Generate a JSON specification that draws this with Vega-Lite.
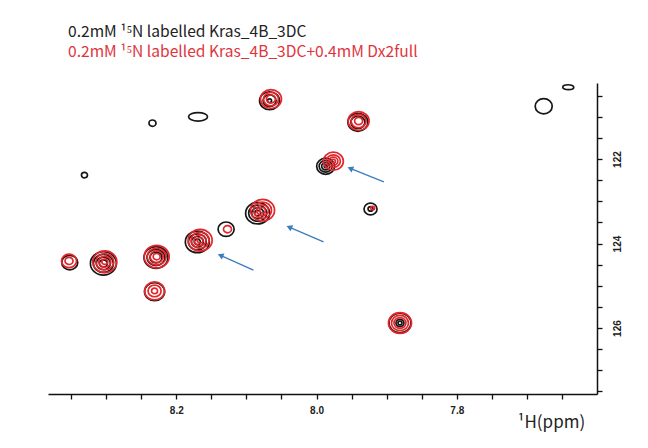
{
  "$schema": "https://vega.github.io/schema/vega-lite/v6.json",
  "width": 549,
  "height": 311,
  "autosize": "none",
  "padding": {"left": 48, "top": 83, "right": 51, "bottom": 54},
  "background": "white",
  "config": {"view": {"stroke": null}, "font": "Liberation Sans"},
  "title": {
    "text": "0.2mM ¹⁵N labelled Kras_4B_3DC",
    "subtitle": "0.2mM ¹⁵N labelled Kras_4B_3DC+0.4mM Dx2full",
    "anchor": "start",
    "frame": "group",
    "dx": 20,
    "offset": 21,
    "font": "Noto Sans CJK KR",
    "fontSize": 15.6,
    "fontWeight": "normal",
    "color": "#222222",
    "subtitleFont": "Noto Sans CJK KR",
    "subtitleFontSize": 15.6,
    "subtitleColor": "#e0353d",
    "subtitlePadding": 4
  },
  "datasets": {
    "rings": [
      {"sample": "Kras_4B_3DC", "H": 8.067, "N": 120.62, "d": 0.0286},
      {"sample": "Kras_4B_3DC", "H": 8.067, "N": 120.62, "d": 0.0186},
      {"sample": "Kras_4B_3DC", "H": 8.067, "N": 120.62, "d": 0.0057},
      {"sample": "Kras_4B_3DC", "H": 8.234, "N": 121.15, "d": 0.01},
      {"sample": "Kras_4B_3DC", "H": 8.331, "N": 122.38, "d": 0.0086},
      {"sample": "Kras_4B_3DC", "H": 7.987, "N": 122.17, "d": 0.0257},
      {"sample": "Kras_4B_3DC", "H": 7.987, "N": 122.17, "d": 0.0186},
      {"sample": "Kras_4B_3DC", "H": 7.987, "N": 122.17, "d": 0.0114},
      {"sample": "Kras_4B_3DC", "H": 7.987, "N": 122.17, "d": 0.0043},
      {"sample": "Kras_4B_3DC", "H": 7.941, "N": 121.13, "d": 0.0286},
      {"sample": "Kras_4B_3DC", "H": 7.941, "N": 121.13, "d": 0.02},
      {"sample": "Kras_4B_3DC", "H": 7.923, "N": 123.18, "d": 0.0186},
      {"sample": "Kras_4B_3DC", "H": 7.923, "N": 123.18, "d": 0.0071},
      {"sample": "Kras_4B_3DC", "H": 7.881, "N": 125.88, "d": 0.0314},
      {"sample": "Kras_4B_3DC", "H": 7.881, "N": 125.88, "d": 0.0114},
      {"sample": "Kras_4B_3DC", "H": 7.881, "N": 125.88, "d": 0.0057},
      {"sample": "Kras_4B_3DC", "H": 7.676, "N": 120.75, "d": 0.0243},
      {"sample": "Kras_4B_3DC", "H": 8.084, "N": 123.28, "d": 0.0343},
      {"sample": "Kras_4B_3DC", "H": 8.084, "N": 123.28, "d": 0.0257},
      {"sample": "Kras_4B_3DC", "H": 8.084, "N": 123.28, "d": 0.0171},
      {"sample": "Kras_4B_3DC", "H": 8.084, "N": 123.28, "d": 0.0086},
      {"sample": "Kras_4B_3DC", "H": 8.129, "N": 123.66, "d": 0.0229},
      {"sample": "Kras_4B_3DC", "H": 8.17, "N": 123.96, "d": 0.0343},
      {"sample": "Kras_4B_3DC", "H": 8.17, "N": 123.96, "d": 0.0257},
      {"sample": "Kras_4B_3DC", "H": 8.17, "N": 123.96, "d": 0.0171},
      {"sample": "Kras_4B_3DC", "H": 8.17, "N": 123.96, "d": 0.0086},
      {"sample": "Kras_4B_3DC", "H": 8.229, "N": 124.33, "d": 0.0343},
      {"sample": "Kras_4B_3DC", "H": 8.229, "N": 124.33, "d": 0.0257},
      {"sample": "Kras_4B_3DC", "H": 8.229, "N": 124.33, "d": 0.0171},
      {"sample": "Kras_4B_3DC", "H": 8.304, "N": 124.47, "d": 0.0371},
      {"sample": "Kras_4B_3DC", "H": 8.304, "N": 124.47, "d": 0.0286},
      {"sample": "Kras_4B_3DC", "H": 8.304, "N": 124.47, "d": 0.02},
      {"sample": "Kras_4B_3DC", "H": 8.304, "N": 124.47, "d": 0.0114},
      {"sample": "Kras_4B_3DC", "H": 8.352, "N": 124.45, "d": 0.0229},
      {"sample": "Kras_4B_3DC", "H": 8.231, "N": 125.14, "d": 0.0286},
      {"sample": "Kras_4B_3DC+Dx2full", "H": 8.065, "N": 120.58, "d": 0.03},
      {"sample": "Kras_4B_3DC+Dx2full", "H": 8.065, "N": 120.58, "d": 0.0214},
      {"sample": "Kras_4B_3DC+Dx2full", "H": 8.065, "N": 120.58, "d": 0.0129},
      {"sample": "Kras_4B_3DC+Dx2full", "H": 7.976, "N": 122.05, "d": 0.0286},
      {"sample": "Kras_4B_3DC+Dx2full", "H": 7.976, "N": 122.05, "d": 0.02},
      {"sample": "Kras_4B_3DC+Dx2full", "H": 7.976, "N": 122.05, "d": 0.0129},
      {"sample": "Kras_4B_3DC+Dx2full", "H": 7.976, "N": 122.05, "d": 0.0057},
      {"sample": "Kras_4B_3DC+Dx2full", "H": 7.94, "N": 121.1, "d": 0.03},
      {"sample": "Kras_4B_3DC+Dx2full", "H": 7.94, "N": 121.1, "d": 0.0214},
      {"sample": "Kras_4B_3DC+Dx2full", "H": 7.94, "N": 121.1, "d": 0.0114},
      {"sample": "Kras_4B_3DC+Dx2full", "H": 7.92, "N": 123.16, "d": 0.0057},
      {"sample": "Kras_4B_3DC+Dx2full", "H": 7.881, "N": 125.88, "d": 0.0329},
      {"sample": "Kras_4B_3DC+Dx2full", "H": 7.881, "N": 125.88, "d": 0.0243},
      {"sample": "Kras_4B_3DC+Dx2full", "H": 7.881, "N": 125.88, "d": 0.0171},
      {"sample": "Kras_4B_3DC+Dx2full", "H": 8.077, "N": 123.21, "d": 0.0343},
      {"sample": "Kras_4B_3DC+Dx2full", "H": 8.077, "N": 123.21, "d": 0.0257},
      {"sample": "Kras_4B_3DC+Dx2full", "H": 8.077, "N": 123.21, "d": 0.0171},
      {"sample": "Kras_4B_3DC+Dx2full", "H": 8.077, "N": 123.21, "d": 0.0086},
      {"sample": "Kras_4B_3DC+Dx2full", "H": 8.127, "N": 123.66, "d": 0.0114},
      {"sample": "Kras_4B_3DC+Dx2full", "H": 8.166, "N": 123.92, "d": 0.0343},
      {"sample": "Kras_4B_3DC+Dx2full", "H": 8.166, "N": 123.92, "d": 0.0257},
      {"sample": "Kras_4B_3DC+Dx2full", "H": 8.166, "N": 123.92, "d": 0.0171},
      {"sample": "Kras_4B_3DC+Dx2full", "H": 8.166, "N": 123.92, "d": 0.0086},
      {"sample": "Kras_4B_3DC+Dx2full", "H": 8.228, "N": 124.31, "d": 0.0357},
      {"sample": "Kras_4B_3DC+Dx2full", "H": 8.228, "N": 124.31, "d": 0.0271},
      {"sample": "Kras_4B_3DC+Dx2full", "H": 8.228, "N": 124.31, "d": 0.0186},
      {"sample": "Kras_4B_3DC+Dx2full", "H": 8.228, "N": 124.31, "d": 0.01},
      {"sample": "Kras_4B_3DC+Dx2full", "H": 8.302, "N": 124.43, "d": 0.0343},
      {"sample": "Kras_4B_3DC+Dx2full", "H": 8.302, "N": 124.43, "d": 0.0257},
      {"sample": "Kras_4B_3DC+Dx2full", "H": 8.302, "N": 124.43, "d": 0.0171},
      {"sample": "Kras_4B_3DC+Dx2full", "H": 8.302, "N": 124.43, "d": 0.0086},
      {"sample": "Kras_4B_3DC+Dx2full", "H": 8.353, "N": 124.41, "d": 0.0214},
      {"sample": "Kras_4B_3DC+Dx2full", "H": 8.353, "N": 124.41, "d": 0.0114},
      {"sample": "Kras_4B_3DC+Dx2full", "H": 8.231, "N": 125.12, "d": 0.0286},
      {"sample": "Kras_4B_3DC+Dx2full", "H": 8.231, "N": 125.12, "d": 0.0186},
      {"sample": "Kras_4B_3DC+Dx2full", "H": 8.231, "N": 125.12, "d": 0.0086}
    ],
    "ovals": [
      {"sample": "Kras_4B_3DC", "H": 8.169, "N": 121.0, "d": 0.0271},
      {"sample": "Kras_4B_3DC", "H": 7.641, "N": 120.3, "d": 0.0157}
    ],
    "arrows": [
      {"H": 7.952, "N": 122.22, "H_tail": 7.904, "N_tail": 122.54},
      {"H": 8.039, "N": 123.61, "H_tail": 7.99, "N_tail": 123.96},
      {"H": 8.137, "N": 124.28, "H_tail": 8.09, "N_tail": 124.63}
    ]
  },
  "layer": [
    {
      "data": {"name": "rings"},
      "mark": {"type": "point", "shape": "M-1,0A1,0.9 0 1,0 1,0A1,0.9 0 1,0 -1,0Z", "filled": false, "strokeWidth": 1.7, "opacity": 1},
      "encoding": {
        "x": {
          "field": "H", "type": "quantitative",
          "scale": {"domain": [7.6, 8.383], "reverse": true, "nice": false, "zero": false},
          "axis": {
            "orient": "bottom",
            "values": [8.35, 8.3, 8.25, 8.2, 8.15, 8.1, 8.05, 8.0, 7.95, 7.9, 7.85, 7.8, 7.75, 7.7, 7.65],
            "tickCount": 40,
            "labelExpr": "abs(datum.value*5 - round(datum.value*5)) < 0.001 ? format(datum.value, '.1f') : ''",
            "labelOverlap": false, "labelBound": false, "labelFlush": false,
            "grid": false,
            "domainColor": "#111111", "domainWidth": 1.5,
            "tickColor": "#111111", "tickWidth": 1.3, "tickSize": 5,
            "labelFontSize": 10, "labelFontWeight": "bold", "labelColor": "#222222", "labelPadding": 6,
            "labelFont": "Liberation Sans",
            "title": "¹H(ppm)",
            "titleFont": "Noto Sans CJK KR", "titleFontSize": 17, "titleFontWeight": "normal", "titleColor": "#222222",
            "titleX": 469, "titleY": 28, "titleAlign": "left", "titleBaseline": "middle"
          }
        },
        "y": {
          "field": "N", "type": "quantitative",
          "scale": {"domain": [120.2, 127.56], "reverse": true, "nice": false, "zero": false},
          "axis": {
            "orient": "right",
            "values": [120.5, 121, 121.5, 122, 122.5, 123, 123.5, 124, 124.5, 125, 125.5, 126, 126.5, 127, 127.5],
            "tickCount": 40,
            "labelExpr": "datum.value % 2 == 0 ? format(datum.value, 'd') : ''",
            "labelOverlap": false, "labelBound": false, "labelFlush": false,
            "grid": false,
            "domainColor": "#111111", "domainWidth": 1.5,
            "tickColor": "#111111", "tickWidth": 1.3, "tickSize": 5,
            "labelFontSize": 10, "labelFontWeight": "bold", "labelColor": "#222222",
            "labelFont": "Liberation Sans",
            "labelAngle": 270, "labelPadding": 10,
            "title": null
          }
        },
        "size": {"field": "d", "type": "quantitative", "scale": {"type": "pow", "exponent": 2, "domain": [0, 0.04], "range": [0, 784]}, "legend": null},
        "color": {"field": "sample", "type": "nominal", "scale": {"domain": ["Kras_4B_3DC", "Kras_4B_3DC+Dx2full"], "range": ["#161616", "#e3262b"]}, "legend": null}
      }
    },
    {
      "data": {"name": "ovals"},
      "mark": {"type": "point", "shape": "M-1,0A1,0.45 0 1,0 1,0A1,0.45 0 1,0 -1,0Z", "filled": false, "strokeWidth": 1.7, "opacity": 1, "color": "#161616"},
      "encoding": {
        "x": {"field": "H", "type": "quantitative"},
        "y": {"field": "N", "type": "quantitative"},
        "size": {"field": "d", "type": "quantitative", "legend": null}
      }
    },
    {
      "data": {"name": "arrows"},
      "mark": {"type": "rule", "color": "#3b7dbf", "strokeWidth": 1.3},
      "encoding": {
        "x": {"field": "H", "type": "quantitative"},
        "y": {"field": "N", "type": "quantitative"},
        "x2": {"field": "H_tail"},
        "y2": {"field": "N_tail"}
      }
    },
    {
      "data": {"name": "arrows"},
      "mark": {"type": "point", "shape": "triangle-up", "filled": true, "angle": 293, "size": 45, "color": "#3b7dbf", "opacity": 1},
      "encoding": {
        "x": {"field": "H", "type": "quantitative"},
        "y": {"field": "N", "type": "quantitative"}
      }
    }
  ]
}
